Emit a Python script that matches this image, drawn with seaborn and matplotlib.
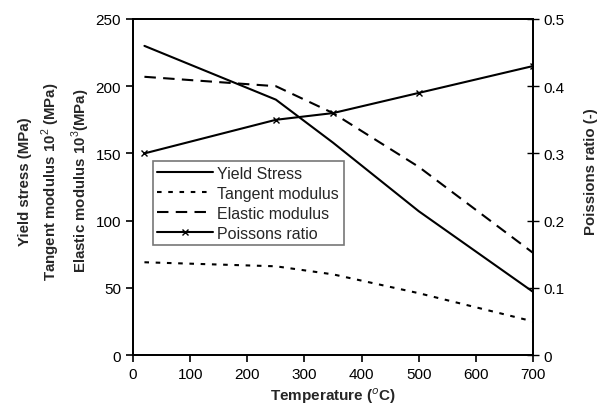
import matplotlib
matplotlib.use("Agg")
import matplotlib.pyplot as plt
import seaborn as sns
import pandas as pd

# Material properties versus temperature
temperature = [20, 250, 350, 500, 700]
yield_stress = [230, 190, 158, 107, 47]
tangent_modulus = [69, 66, 60, 46, 25]
elastic_modulus = [207, 200, 180, 140, 76]
poissons_ratio = [0.30, 0.35, 0.36, 0.39, 0.43]

left_ticks = [0, 50, 100, 150, 200, 250]
right_ticks = [0, 0.1, 0.2, 0.3, 0.4, 0.5]
right_tick_labels = ["0", "0.1", "0.2", "0.3", "0.4", "0.5"]
x_ticks = [0, 100, 200, 300, 400, 500, 600, 700]

df = pd.DataFrame({
    "T": temperature,
    "ys": yield_stress,
    "tm": tangent_modulus,
    "em": elastic_modulus,
    "nu": poissons_ratio,
})

sns.set_style("white")
plt.rcParams["font.family"] = ["Liberation Sans", "DejaVu Sans"]
plt.rcParams["mathtext.fontset"] = "custom"
plt.rcParams["mathtext.rm"] = "Liberation Sans"
plt.rcParams["mathtext.bf"] = "Liberation Sans:bold"

fs = 11
fig = plt.figure(figsize=(6.0, 4.14), dpi=100)
ax = fig.add_axes([133 / 600, 1 - 356 / 414, 400 / 600, 336 / 414])
ax2 = ax.twinx()

lw = 1.5
sns.lineplot(data=df, x="T", y="ys", ax=ax, color="black", lw=lw,
             label="Yield Stress", legend=False)
sns.lineplot(data=df, x="T", y="tm", ax=ax, color="black", lw=lw,
             label="Tangent modulus", legend=False)
sns.lineplot(data=df, x="T", y="em", ax=ax, color="black", lw=lw,
             label="Elastic modulus", legend=False)
sns.lineplot(data=df, x="T", y="nu", ax=ax2, color="black", lw=lw,
             marker="x", markersize=5, markeredgewidth=1.0,
             markeredgecolor="black", markerfacecolor="black",
             label="Poissons ratio", legend=False)

ys_line, tm_line, em_line = ax.get_lines()[:3]
nu_line = ax2.get_lines()[0]
tm_line.set_dashes([2.2, 3.2])
em_line.set_dashes([5.5, 3.5])
nu_line.set_markeredgecolor("black")

ax.set_xlim(0, 700)
ax.set_ylim(0, 250)
ax2.set_ylim(0, 0.5)
ax.set_xticks(x_ticks)
ax.set_yticks(left_ticks)
ax2.set_yticks(right_ticks)
ax2.set_yticklabels(right_tick_labels)

for a in (ax, ax2):
    for s in a.spines.values():
        s.set_color("black")
        s.set_linewidth(1.3)

ax.tick_params(axis="both", direction="out", length=5, width=1.2,
               labelsize=fs, colors="black", left=True, bottom=True)
ax2.tick_params(axis="y", direction="inout", length=8, width=1.0,
                labelsize=fs, colors="black", right=True)

ax.set_xlabel("Temperature ($^o$C)", fontsize=fs, fontweight="bold", labelpad=3)
ax.set_ylabel("Yield stress (MPa)\nTangent modulus 10$^2$ (MPa)\nElastic modulus 10$^3$(MPa)",
              fontsize=10.8, fontweight="bold", labelpad=3, linespacing=1.45)
ax.yaxis.label.set_y(0.52)
ax2.set_ylabel("Poissions ratio (-)", fontsize=10.8, fontweight="bold", labelpad=14)
ax2.yaxis.label.set_y(0.55)

handles = [ys_line, tm_line, em_line, nu_line]
labels = [h.get_label() for h in handles]
leg = ax.legend(handles, labels, loc="upper left", bbox_to_anchor=(0.05, 0.577),
                borderaxespad=0, frameon=True, fancybox=False, fontsize=11.5,
                handlelength=3.5, handletextpad=0.25, labelspacing=0.32,
                borderpad=0.28, markerscale=1.0)
leg.get_frame().set_edgecolor("#555555")
leg.get_frame().set_linewidth(1.2)

fig.savefig("out.png", dpi=100, facecolor="white")
